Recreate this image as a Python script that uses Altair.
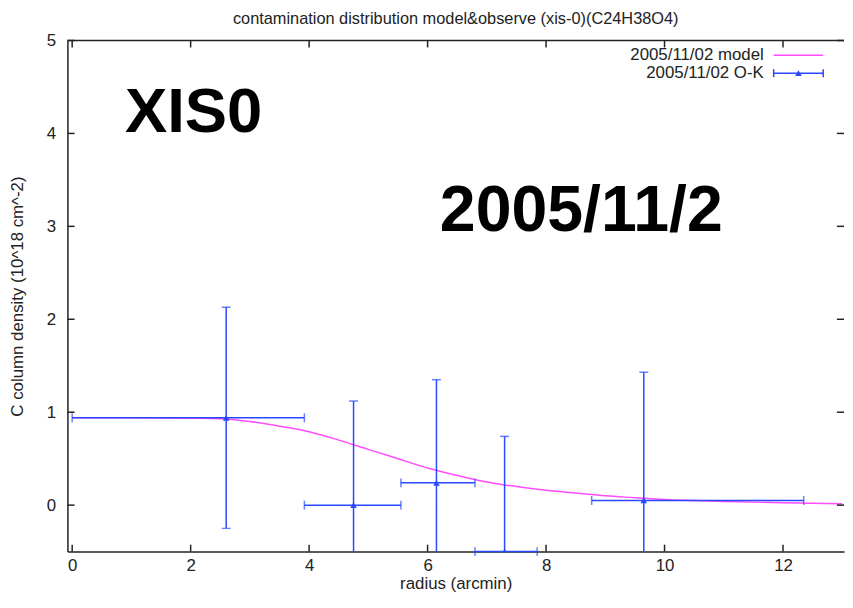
import altair as alt
import pandas as pd

# ---- observed O-K points (xyerrorbars) ----
radius = [2.6, 4.75, 6.15, 7.3, 9.65]
density = [0.94, 0.0, 0.24, -0.5, 0.05]
r_low = [0.0, 3.92, 5.55, 6.8, 8.77]
r_high = [3.92, 5.55, 6.8, 7.85, 12.35]
d_low = [-0.25, -1.12, -0.87, -1.74, -1.33]
d_high = [2.13, 1.12, 1.35, 0.74, 1.43]

# ---- model curve ----
model_r = [0, 1, 2, 2.5, 3, 3.5, 4, 4.5, 5, 5.5, 6, 6.5, 7, 7.5, 8, 8.5, 9, 9.5, 10, 11, 12, 13]
model_d = [0.94, 0.94, 0.935, 0.93, 0.9, 0.85, 0.79, 0.7, 0.6, 0.5, 0.4, 0.32, 0.25, 0.2,
           0.16, 0.13, 0.1, 0.08, 0.06, 0.04, 0.025, 0.015]

x_ticks = [0, 2, 4, 6, 8, 10, 12]
y_ticks = [0, 1, 2, 3, 4, 5]
x_range = [-0.08, 13.03]
y_range = [-0.5, 5]
x_tick_len = 0.12   # inward tick length in x units (~7 px)
y_tick_len = 0.075  # inward tick length in y units (~7 px)

title_text = "contamination distribution model&observe (xis-0)(C24H38O4)"
legend_labels = ["2005/11/02 model", "2005/11/02 O-K"]
big_labels = ["XIS0", "2005/11/2"]

FONT = "Liberation Sans"
FS = 17
BLUE = "#2a48ff"
PINK = "#ff4cff"
TOTAL_W, TOTAL_H = 845, 586

obs = pd.DataFrame({"radius": radius, "density": density, "r_low": r_low,
                    "r_high": r_high, "d_low": d_low, "d_high": d_high})
model = pd.DataFrame({"r": model_r, "d": model_d})
xt = pd.DataFrame({"t": x_ticks})
yt = pd.DataFrame({"t": y_ticks})
one = pd.DataFrame({"a": [0]})

xs = alt.Scale(domain=x_range, nice=False, zero=False)
ys = alt.Scale(domain=y_range, nice=False, zero=False)

XAX = alt.Axis(values=x_ticks, tickSize=0, grid=False, title="radius (arcmin)",
               labelPadding=6, titlePadding=2, domainColor="#222", domainWidth=1.5)
YAX = alt.Axis(values=y_ticks, tickSize=0, grid=False,
               title="C column density (10^18 cm^-2)", labelPadding=12, titlePadding=20,
               domainColor="#222", domainWidth=1.5)


def X(field):
    return alt.X(field, scale=xs, axis=XAX)


def Y(field):
    return alt.Y(field, scale=ys, axis=YAX)


def XD(v):
    return alt.XDatum(v, scale=xs, axis=XAX)


def YD(v):
    return alt.YDatum(v, scale=ys, axis=YAX)


model_line = alt.Chart(model).mark_line(color=PINK, strokeWidth=1.5, clip=True,
                                        interpolate="monotone").encode(
    x=X("r:Q"), y=Y("d:Q"))

ybars = alt.Chart(obs).mark_rule(color=BLUE, strokeWidth=1.5, clip=True).encode(
    x=X("radius:Q"), y=Y("d_low:Q"), y2="d_high:Q")
xbars = alt.Chart(obs).mark_rule(color=BLUE, strokeWidth=1.5).encode(
    x=X("r_low:Q"), x2="r_high:Q", y=Y("density:Q"))
cap_lo = alt.Chart(obs).mark_tick(color=BLUE, orient="horizontal", size=9,
                                  thickness=1.5, clip=True).encode(
    x=X("radius:Q"), y=Y("d_low:Q"))
cap_hi = alt.Chart(obs).mark_tick(color=BLUE, orient="horizontal", size=9,
                                  thickness=1.5, clip=True).encode(
    x=X("radius:Q"), y=Y("d_high:Q"))
cap_l = alt.Chart(obs).mark_tick(color=BLUE, orient="vertical", size=9,
                                 thickness=1.5).encode(
    x=X("r_low:Q"), y=Y("density:Q"))
cap_r = alt.Chart(obs).mark_tick(color=BLUE, orient="vertical", size=9,
                                 thickness=1.5).encode(
    x=X("r_high:Q"), y=Y("density:Q"))
pts = alt.Chart(obs).mark_point(shape="triangle-up", filled=True, size=45,
                                color=BLUE, opacity=1, clip=True).encode(
    x=X("radius:Q"), y=Y("density:Q"))

# inward ticks on all four sides (kept inside the frame)
tk = dict(color="#222", strokeWidth=1.5)
t_bottom = alt.Chart(xt).mark_rule(**tk).encode(
    x=X("t:Q"), y=YD(y_range[0]), y2=alt.Y2Datum(y_range[0] + y_tick_len))
t_top = alt.Chart(xt).mark_rule(**tk).encode(
    x=X("t:Q"), y=YD(y_range[1]), y2=alt.Y2Datum(y_range[1] - y_tick_len))
t_left = alt.Chart(yt).mark_rule(**tk).encode(
    y=Y("t:Q"), x=XD(x_range[0]), x2=alt.X2Datum(x_range[0] + x_tick_len))
t_right = alt.Chart(yt).mark_rule(**tk).encode(
    y=Y("t:Q"), x=XD(x_range[1]), x2=alt.X2Datum(x_range[1] - x_tick_len))
top_border = alt.Chart(one).mark_rule(color="#222", strokeWidth=1.5).encode(
    x=alt.value(0), x2=alt.value("width"), y=alt.value(0))

# key (top right, gnuplot style)
KX = 703
key_t1 = alt.Chart(one).mark_text(text=legend_labels[0], align="right", baseline="middle",
                                  font=FONT, fontSize=FS, color="#222").encode(
    x=alt.value(KX), y=alt.value(15))
key_t2 = alt.Chart(one).mark_text(text=legend_labels[1], align="right", baseline="middle",
                                  font=FONT, fontSize=FS, color="#222").encode(
    x=alt.value(KX), y=alt.value(33))
key_l1 = alt.Chart(one).mark_rule(color=PINK, strokeWidth=1.5).encode(
    x=alt.value(KX + 10), x2=alt.value(KX + 60), y=alt.value(15))
key_l2 = alt.Chart(one).mark_rule(color=BLUE, strokeWidth=1.5).encode(
    x=alt.value(KX + 10), x2=alt.value(KX + 60), y=alt.value(33))
key_c1 = alt.Chart(one).mark_rule(color=BLUE, strokeWidth=1.5).encode(
    x=alt.value(KX + 10), y=alt.value(29), y2=alt.value(37))
key_c2 = alt.Chart(one).mark_rule(color=BLUE, strokeWidth=1.5).encode(
    x=alt.value(KX + 60), y=alt.value(29), y2=alt.value(37))
key_p = alt.Chart(one).mark_point(shape="triangle-up", filled=True, size=45,
                                  color=BLUE, opacity=1).encode(
    x=alt.value(KX + 35), y=alt.value(33))

big1 = alt.Chart(one).mark_text(text=big_labels[0], align="left", baseline="alphabetic",
                                font=FONT, fontSize=64, fontWeight="bold",
                                color="black").encode(x=alt.value(58), y=alt.value(92))
big2 = alt.Chart(one).mark_text(text=big_labels[1], align="left", baseline="alphabetic",
                                font=FONT, fontSize=65, fontWeight="bold",
                                color="black").encode(x=alt.value(376), y=alt.value(192))

chart = alt.layer(
    model_line, ybars, xbars, cap_lo, cap_hi, cap_l, cap_r, pts,
    t_bottom, t_top, t_left, t_right, top_border,
    key_t1, key_t2, key_l1, key_l2, key_c1, key_c2, key_p, big1, big2,
).properties(
    width=TOTAL_W, height=TOTAL_H,
    title=alt.TitleParams(title_text, font=FONT, fontSize=FS - 0.5, fontWeight="normal",
                          color="#222", anchor="middle", offset=4),
    autosize=alt.AutoSizeParams(type="fit", contains="padding"),
    padding={"left": 0, "top": 0, "right": 0, "bottom": 0},
).configure_view(stroke=None).configure_axis(
    labelFont=FONT, titleFont=FONT, labelFontSize=FS, titleFontSize=FS,
    labelColor="#222", titleColor="#222", titleFontWeight="normal",
)

chart.save("out.html", embed_options={"renderer": "svg", "actions": False})
